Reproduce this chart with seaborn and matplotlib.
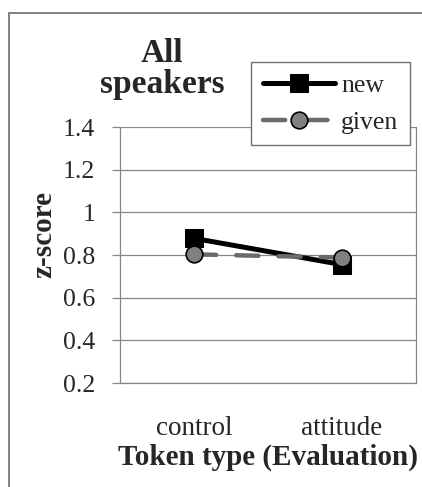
import matplotlib
matplotlib.use("Agg")
import matplotlib.pyplot as plt
import seaborn as sns
import pandas as pd
from matplotlib.patches import Rectangle
from matplotlib.ticker import FixedLocator

categories = ["control", "attitude"]
new_values = [0.878, 0.755]
given_values = [0.803, 0.788]
series_names = ["new", "given"]
y_ticks = [0.2, 0.4, 0.6, 0.8, 1.0, 1.2, 1.4]
y_tick_labels = ["0.2", "0.4", "0.6", "0.8", "1", "1.2", "1.4"]

sns.set_theme(style="white")
plt.rcParams["font.family"] = ["Liberation Serif", "DejaVu Serif"]

df = pd.DataFrame({
    "x": list(range(len(categories))) * 2,
    "z": new_values + given_values,
    "series": [series_names[0]] * len(categories) + [series_names[1]] * len(categories),
})

W, H = 422, 487
fig = plt.figure(figsize=(W / 100, H / 100), dpi=100)
ax = fig.add_axes([120 / W, 1 - 383 / H, (416 - 120) / W, (383 - 127) / H])

grid_c = "#868686"
for yv in y_ticks:
    ax.axhline(yv, color=grid_c, lw=0.9, zorder=0)

sns.lineplot(data=df[df.series == "new"], x="x", y="z", ax=ax, color="black",
             lw=3.6, marker="s", markersize=12.5, markeredgecolor="black",
             markerfacecolor="black", label="new", zorder=3)
sns.lineplot(data=df[df.series == "given"], x="x", y="z", ax=ax, color="#6a6a6a",
             lw=3.2, marker="o", markersize=12, markeredgecolor="black",
             markeredgewidth=1.2, markerfacecolor="#808080", label="given",
             dashes=(5, 4.5), dash_capstyle="round", zorder=4)

ax.set_xlim(-0.5, 1.5)
ax.set_ylim(0.2, 1.4)
ax.set_yticks(y_ticks)
ax.set_yticklabels(y_tick_labels, fontsize=18.5)
ax.set_xticks(range(len(categories)))
ax.set_xticklabels(categories, fontsize=19.5)
ax.xaxis.set_minor_locator(FixedLocator([-0.5, 0.5, 1.5]))
ax.tick_params(axis="x", which="major", length=0, pad=24)
ax.tick_params(axis="x", which="minor", length=6.5, width=0.9, color=grid_c, direction="out")
ax.tick_params(axis="y", which="major", length=5.8, width=0.9, color=grid_c,
               direction="out", pad=12, left=True)
for side in ["left", "right", "bottom", "top"]:
    ax.spines[side].set_color(grid_c)
    ax.spines[side].set_linewidth(0.9)
ax.spines["top"].set_visible(False)

ax.set_xlabel("Token type (Evaluation)", fontsize=21, fontweight="bold", labelpad=1.5)
ax.set_ylabel("z-score", fontsize=21, fontweight="bold")
ax.yaxis.set_label_coords(-0.213, 0.582)

fig.text(162 / W, 1 - 69 / H, "All\nspeakers", ha="center", va="center",
         fontsize=24, fontweight="bold", linespacing=1.0)

leg = ax.legend(loc="upper right", bbox_to_anchor=(410 / W, 1 - 62 / H),
                bbox_transform=fig.transFigure, fontsize=18.5, frameon=True,
                fancybox=False, edgecolor="#707070", handlelength=2.8,
                handletextpad=0.25, labelspacing=0.55, borderpad=0.45,
                borderaxespad=0)
leg.get_frame().set_linewidth(1.0)
leg.get_frame().set_facecolor("white")
leg.get_frame().set_alpha(1)

fig.patches.append(Rectangle((9 / W, -0.1), 1.2, 1 - 12.5 / H + 0.1,
                             transform=fig.transFigure, fill=False,
                             edgecolor="#808080", lw=1.4, zorder=10))

fig.savefig("out.png", dpi=100)
